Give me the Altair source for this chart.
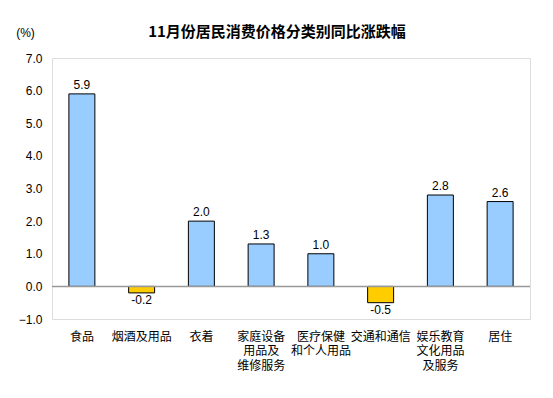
import altair as alt
import pandas as pd

categories = ["食品", "烟酒及用品", "衣着", "家庭设备|用品及|维修服务", "医疗保健|和个人用品",
              "交通和通信", "娱乐教育|文化用品|及服务", "居住"]
values = [5.9, -0.2, 2.0, 1.3, 1.0, -0.5, 2.8, 2.6]
y_ticks = [-1, 0, 1, 2, 3, 4, 5, 6, 7]

df = pd.DataFrame({"cat": categories, "val": values})
df["label"] = df["val"].map(lambda v: f"{v:.1f}")
df["sign"] = df["val"].map(lambda v: "pos" if v >= 0 else "neg")

num_font = "Liberation Sans"
cjk_font = "Noto Sans CJK SC"

x = alt.X("cat:N", sort=categories, title=None,
          scale=alt.Scale(paddingInner=0.565, paddingOuter=0.2825),
          axis=alt.Axis(labelExpr="split(datum.label, '|')", labelAngle=0, ticks=False,
                        domain=False, labelPadding=12, labelFont=cjk_font, labelFontSize=12,
                        labelColor="black", labelLineHeight=14.5, labelOverlap=False))
y = alt.Y("val:Q", title="(%)",
          scale=alt.Scale(domain=[-1, 7], nice=False),
          axis=alt.Axis(values=y_ticks, format=".1f", ticks=False, domain=False, grid=False,
                        labelOverlap=False,
                        labelPadding=10, labelFont=num_font, labelFontSize=12, labelColor="black",
                        titleAngle=0, titleX=-27, titleY=-26, titleAlign="center",
                        titleBaseline="middle", titleFont=num_font, titleFontSize=12,
                        titleFontWeight="normal", titleColor="black"))

bars = alt.Chart(df).mark_bar(stroke="black", strokeWidth=1).encode(
    x=x, y=y,
    color=alt.Color("sign:N", scale=alt.Scale(domain=["pos", "neg"], range=["#99CCFF", "#FFCC00"]),
                    legend=None),
)

pos_text = alt.Chart(df).transform_filter("datum.val >= 0").mark_text(
    baseline="bottom", dy=-2, font=num_font, fontSize=12, color="black"
).encode(x=x, y=y, text="label:N")

neg_text = alt.Chart(df).transform_filter("datum.val < 0").mark_text(
    baseline="top", dy=2, font=num_font, fontSize=12, color="black"
).encode(x=x, y=y, text="label:N")

zero = alt.Chart(pd.DataFrame({"val": [0]})).mark_rule(color="#999999", strokeWidth=1.5).encode(
    y=y)

chart = alt.layer(bars, zero, pos_text, neg_text).properties(
    width=478, height=261,
    autosize=alt.AutoSizeParams(type="none"),
    padding={"left": 44, "top": 50, "right": 15, "bottom": 71},
    title=alt.TitleParams("11月份居民消费价格分类别同比涨跌幅", font=cjk_font, fontSize=15,
                          fontWeight="bold", color="black", anchor="middle", dx=-14, offset=-14),
).configure_view(stroke="#999999", strokeWidth=1.5).configure_axisY(
    labelOverlap=False, labelFlush=False
).configure(background="white")

chart.save("out.html", embed_options={"renderer": "svg", "actions": False})
